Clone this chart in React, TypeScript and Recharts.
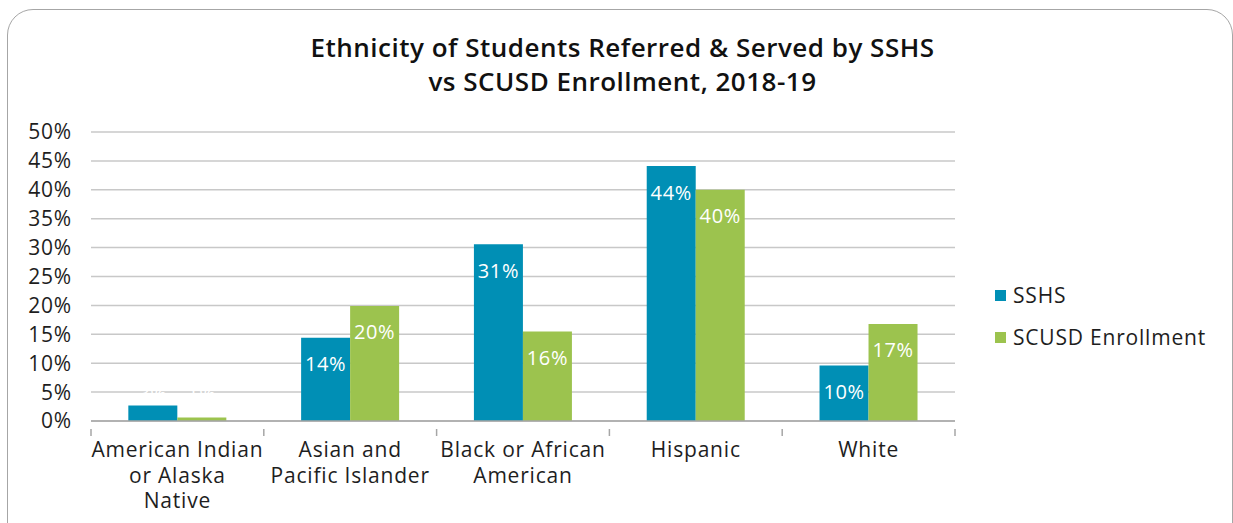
import { BarChart, Bar, XAxis, YAxis, CartesianGrid, LabelList } from 'recharts'

const categories = [
  'American Indian or Alaska Native',
  'Asian and Pacific Islander',
  'Black or African American',
  'Hispanic',
  'White',
]
const categoryLines = [
  ['American Indian', 'or Alaska', 'Native'],
  ['Asian and', 'Pacific Islander'],
  ['Black or African', 'American'],
  ['Hispanic'],
  ['White'],
]
const sshs = [2.7, 14.4, 30.6, 44.1, 9.6]
const scusd = [0.6, 19.9, 15.5, 40.0, 16.8]
const yTicks = [0, 5, 10, 15, 20, 25, 30, 35, 40, 45, 50]

const BLUE = '#008fb5'
const GREEN = '#9cc34e'
const FONT = '"Open Sans", sans-serif'
const TEXT = '#1e1e1e'

const data = categories.map((name, i) => ({
  name,
  sshs: sshs[i],
  scusd: scusd[i],
}))

function CategoryTick(props: any) {
  const { x, y, payload, index, width } = props
  const band = (width ?? 864) / categories.length
  const lines: string[] = categoryLines[index] ?? [payload.value]
  return (
    <g>
      <line x1={x - band / 2} x2={x - band / 2} y1={y} y2={y + 7} stroke="#a6a6a6" strokeWidth={1.5} />
      {index === categories.length - 1 && (
        <line x1={x + band / 2} x2={x + band / 2} y1={y} y2={y + 7} stroke="#a6a6a6" strokeWidth={1.5} />
      )}
      {lines.map((l, i) => (
        <text
          key={i}
          x={x}
          y={y + 28 + i * 25.5}
          textAnchor="middle"
          fontSize={21}
          letterSpacing={0.8}
          fontFamily={FONT}
          fill={TEXT}
        >
          {l}
        </text>
      ))}
    </g>
  )
}

function ValueLabel(props: any) {
  const { x, y, width, height, value } = props
  const bottom = y + height
  const cy = Math.min(y + 26, bottom - 28)
  return (
    <text
      x={x + width / 2}
      y={cy}
      textAnchor="middle"
      dominantBaseline="central"
      fontSize={20}
      letterSpacing={0.6}
      fontFamily={FONT}
      fill="#ffffff"
    >
      {Math.round(value)}%
    </text>
  )
}

const legendItems = [
  { label: 'SSHS', color: BLUE },
  { label: 'SCUSD Enrollment', color: GREEN },
]

export default function App() {
  return (
    <div style={{ position: 'absolute', left: 0, top: 0, width: 1233, height: 523, overflow: 'hidden', background: '#fff' }}>
      <div
        style={{
          position: 'absolute',
          left: 7,
          top: 9,
          width: 1226,
          height: 560,
          border: '1.5px solid #a6a6a6',
          borderRadius: 26,
          boxSizing: 'border-box',
        }}
      />
      <div
        style={{
          position: 'absolute',
          left: 0,
          width: 1245,
          top: 30,
          textAlign: 'center',
          fontFamily: FONT,
          fontSize: 26,
          fontWeight: 600,
          letterSpacing: 0.5,
          lineHeight: '34px',
          color: '#111',
        }}
      >
        Ethnicity of Students Referred &amp; Served by SSHS
        <br />
        vs SCUSD Enrollment, 2018-19
      </div>
      <div style={{ position: 'absolute', left: 0, top: 0 }}>
        <BarChart
          width={1233}
          height={523}
          data={data}
          margin={{ top: 132, right: 278, left: 0, bottom: 0 }}
          barCategoryGap="21.6%"
          barGap={0}
        >
          <CartesianGrid vertical={false} stroke="#c8c8c8" strokeWidth={1.5} />
          <XAxis
            dataKey="name"
            height={102}
            interval={0}
            tickLine={false}
            axisLine={{ stroke: '#a6a6a6', strokeWidth: 1.5 }}
            tick={<CategoryTick />}
          />
          <YAxis
            width={91}
            domain={[0, 50]}
            ticks={yTicks}
            tickFormatter={(v: number) => `${v}%`}
            axisLine={false}
            tickLine={false}
            tickSize={0}
            tickMargin={19}
            tick={{ fontSize: 21, fontFamily: FONT, fill: TEXT, letterSpacing: 0.8 }}
            interval={0}
          />
          <Bar dataKey="sshs" name="SSHS" fill={BLUE} isAnimationActive={false}>
            <LabelList dataKey="sshs" content={<ValueLabel />} />
          </Bar>
          <Bar dataKey="scusd" name="SCUSD Enrollment" fill={GREEN} isAnimationActive={false}>
            <LabelList dataKey="scusd" content={<ValueLabel />} />
          </Bar>
        </BarChart>
      </div>
      <div style={{ position: 'absolute', left: 995, top: 274, fontFamily: FONT, fontSize: 21, letterSpacing: 0.8, color: TEXT }}>
        {legendItems.map((it) => (
          <div key={it.label} style={{ display: 'flex', alignItems: 'center', height: 42 }}>
            <span style={{ width: 11, height: 11, background: it.color, display: 'inline-block', marginRight: 7 }} />
            <span>{it.label}</span>
          </div>
        ))}
      </div>
    </div>
  )
}
